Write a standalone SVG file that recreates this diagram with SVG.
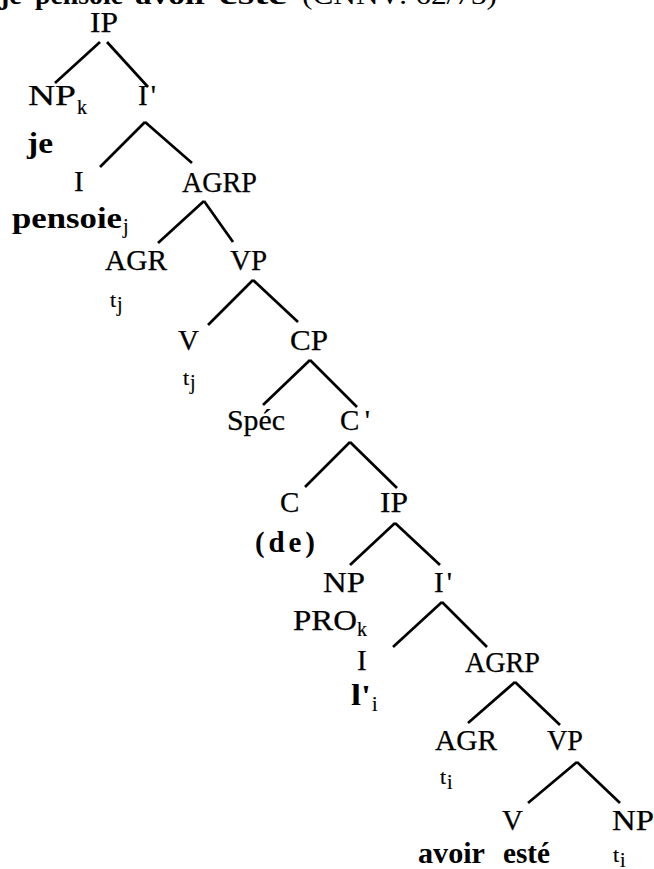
<svg xmlns="http://www.w3.org/2000/svg" width="654" height="869" viewBox="0 0 654 869">
<style>
text{font-family:"Liberation Serif","Times New Roman",serif;fill:#000}
.n{font-size:29px;stroke:#000;stroke-width:0.25}
.b{font-size:29px;font-weight:bold}
.s{font-size:20px;stroke:#000;stroke-width:0.2}
.t{font-size:22px;stroke:#000;stroke-width:0.2}
.top{font-size:28px}
#edges line{stroke:#000;stroke-width:2.7;stroke-linecap:butt}
</style>
<rect width="654" height="869" fill="#fff"/>
<g id="caption">
<text class="top" x="0" y="4" font-weight="bold">je</text>
<text class="top" x="35" y="4" textLength="88" lengthAdjust="spacingAndGlyphs" font-weight="bold">pensoie</text>
<text class="top" x="135" y="4" textLength="74" lengthAdjust="spacingAndGlyphs" font-weight="bold">avoir</text>
<text class="top" x="219" y="4" textLength="68" lengthAdjust="spacingAndGlyphs" font-weight="bold">esté</text>
<text class="top" x="302" y="4" textLength="195" lengthAdjust="spacingAndGlyphs">(CNNV: 62/73)</text>
</g>
<g id="edges">
<line x1="100" y1="42" x2="55" y2="83"/><line x1="107" y1="42" x2="148" y2="87"/>
<line x1="145" y1="122" x2="100" y2="167"/><line x1="145" y1="122" x2="192" y2="163"/>
<line x1="204" y1="201" x2="158" y2="243"/><line x1="204" y1="201" x2="233" y2="242"/>
<line x1="253" y1="280" x2="208" y2="325"/><line x1="253" y1="280" x2="298" y2="322"/>
<line x1="310" y1="360" x2="263" y2="405"/><line x1="310" y1="360" x2="357" y2="407"/>
<line x1="350" y1="442" x2="305" y2="487"/><line x1="350" y1="442" x2="397" y2="488"/>
<line x1="395" y1="523" x2="350" y2="565"/><line x1="395" y1="523" x2="440" y2="565"/>
<line x1="442" y1="602" x2="393" y2="647"/><line x1="442" y1="602" x2="487" y2="647"/>
<line x1="515" y1="682" x2="468" y2="723"/><line x1="515" y1="682" x2="560" y2="725"/>
<line x1="577" y1="762" x2="528" y2="803"/><line x1="577" y1="762" x2="620" y2="803"/>
</g>
<g id="ip1"><text class="n" x="90" y="32" textLength="28" lengthAdjust="spacingAndGlyphs">IP</text></g>
<g id="npk"><text class="n" x="28" y="105" textLength="48" lengthAdjust="spacingAndGlyphs">NP</text><text class="s" x="77" y="114">k</text><text class="b" x="27" y="153" textLength="26" lengthAdjust="spacingAndGlyphs">je</text></g>
<g id="ibar1"><text class="n" x="138" y="105" textLength="18" lengthAdjust="spacing">I'</text></g>
<g id="i1"><text class="n" x="74" y="191">I</text><text class="b" x="12" y="228" textLength="110" lengthAdjust="spacingAndGlyphs">pensoie</text><text class="s" x="123" y="233">j</text></g>
<g id="agrp1"><text class="n" x="182" y="192" textLength="75" lengthAdjust="spacingAndGlyphs">AGRP</text></g>
<g id="agr1"><text class="n" x="105" y="270" textLength="62" lengthAdjust="spacingAndGlyphs">AGR</text><text class="t" x="110" y="307">t</text><text class="s" x="117" y="311">j</text></g>
<g id="vp1"><text class="n" x="230" y="270" textLength="37" lengthAdjust="spacingAndGlyphs">VP</text></g>
<g id="v1"><text class="n" x="178" y="350">V</text><text class="t" x="183" y="385">t</text><text class="s" x="190" y="389">j</text></g>
<g id="cp"><text class="n" x="290" y="350" textLength="38" lengthAdjust="spacingAndGlyphs">CP</text></g>
<g id="spec"><text class="n" x="227" y="430" textLength="58" lengthAdjust="spacingAndGlyphs">Spéc</text></g>
<g id="cbar"><text class="n" x="340" y="430" textLength="30" lengthAdjust="spacing">C'</text></g>
<g id="c"><text class="n" x="280" y="512">C</text><text class="b" x="255" y="552" textLength="60" lengthAdjust="spacing">(de)</text></g>
<g id="ip2"><text class="n" x="380" y="512" textLength="28" lengthAdjust="spacingAndGlyphs">IP</text></g>
<g id="np2"><text class="n" x="323" y="592" textLength="42" lengthAdjust="spacingAndGlyphs">NP</text><text class="n" x="293" y="630" textLength="64" lengthAdjust="spacingAndGlyphs">PRO</text><text class="s" x="357" y="636">k</text></g>
<g id="ibar2"><text class="n" x="434" y="592" textLength="18" lengthAdjust="spacing">I'</text></g>
<g id="i2"><text class="n" x="357" y="670">I</text><text class="b" x="351" y="705" textLength="20" lengthAdjust="spacingAndGlyphs">l'</text><text class="s" x="372" y="711">i</text></g>
<g id="agrp2"><text class="n" x="465" y="672" textLength="75" lengthAdjust="spacingAndGlyphs">AGRP</text></g>
<g id="agr2"><text class="n" x="435" y="750" textLength="62" lengthAdjust="spacingAndGlyphs">AGR</text><text class="t" x="440" y="784">t</text><text class="s" x="447" y="789">i</text></g>
<g id="vp2"><text class="n" x="547" y="750" textLength="36" lengthAdjust="spacingAndGlyphs">VP</text></g>
<g id="v2"><text class="n" x="502" y="830">V</text><text class="b" x="418" y="863" textLength="67" lengthAdjust="spacingAndGlyphs">avoir</text><text class="b" x="503" y="863" textLength="47" lengthAdjust="spacingAndGlyphs">esté</text></g>
<g id="np3"><text class="n" x="612" y="830" textLength="42" lengthAdjust="spacingAndGlyphs">NP</text><text class="t" x="613" y="862">t</text><text class="s" x="620" y="867">i</text></g>
</svg>
